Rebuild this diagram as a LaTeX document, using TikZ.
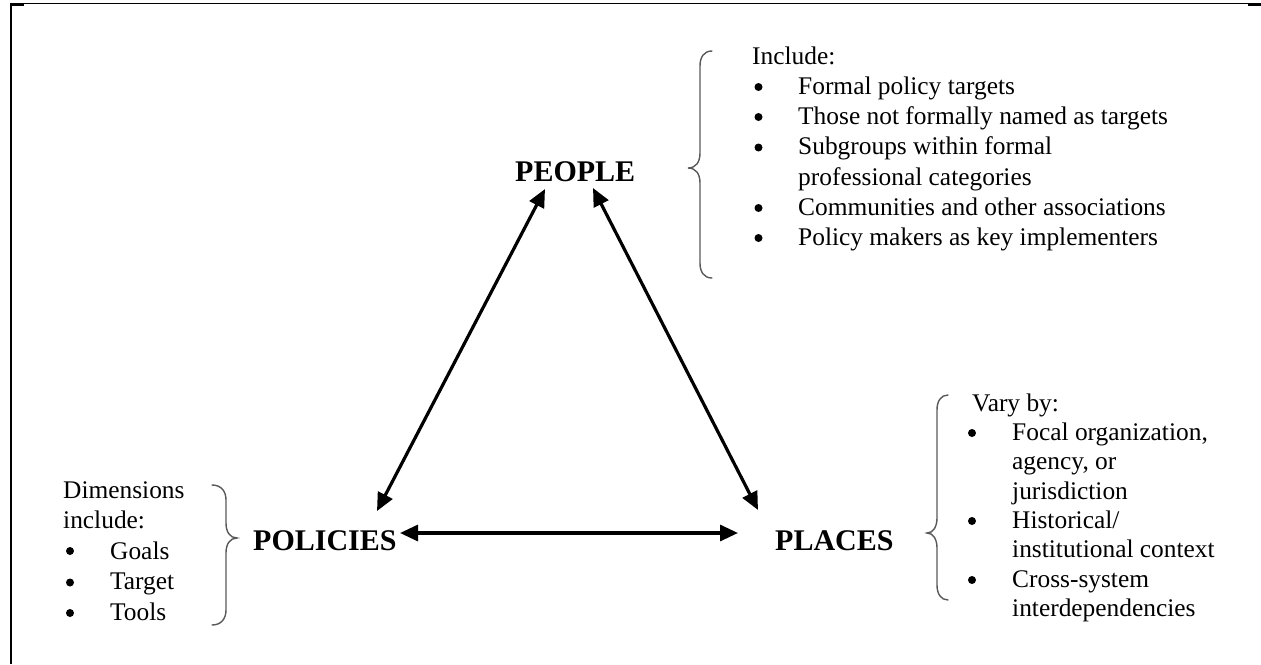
\documentclass[tikz,border=0pt]{standalone}
\usepackage{fontspec}
\setmainfont{Liberation Serif}
\usetikzlibrary{arrows.meta}
\begin{document}
\begin{tikzpicture}[x=1pt,y=-1pt,
  txt/.style={anchor=base west, inner sep=0pt, font=\fontsize{25.4}{30}\selectfont},
  head/.style={anchor=base west, inner sep=0pt, font=\fontsize{30}{36}\selectfont\bfseries},
  bul/.style={circle, fill=black, inner sep=0pt, minimum size=8pt},
  conn/.style={line width=3.2pt, {Triangle[length=18pt,width=16pt]}-{Triangle[length=18pt,width=16pt]}},
  bracesty/.style={line width=1.4pt, draw=black!65, line cap=round},
  framesty/.style={line width=1pt}]
\useasboundingbox (0,0) rectangle (1261,664);

% frame
\draw[framesty] (10,3.5) -- (1261,3.5);
\draw[line width=2pt] (10.5,3) -- (10.5,664);
\draw[line width=1.5pt] (10,5) -- (24,5);
\draw[line width=2pt] (1248,4.5) -- (1261,4.5);

% headings
\node[head] (people) at (515,181) {PEOPLE};
\node[head] (policies) at (253,550) {POLICIES};
\node[head] (places) at (775,550) {PLACES};

% arrow ends
\coordinate (peL) at (545,189);
\coordinate (poT) at (377,511);
\coordinate (peR) at (593,188);
\coordinate (plT) at (758,510);
\coordinate (poR) at (400,533);
\coordinate (plL) at (738,533);
\draw[conn] (peL) -- (poT);
\draw[conn] (peR) -- (plT);
\draw[conn] (poR) -- (plL);

% PEOPLE brace and list
\draw[bracesty] (712,51) .. controls (704,51) and (700,57) .. (700,66) -- (700,153)
  .. controls (700,162) and (696,168) .. (688,168)
  .. controls (696,168) and (700,174) .. (700,183) -- (700,263)
  .. controls (700,272) and (704,278) .. (712,278);
\node[txt] (inc) at (752,64) {Include:};
\node[bul] (b1) at (758.5,87) {};
\node[txt] (i1) at (798,94) {Formal policy targets};
\node[bul] (b2) at (758.5,117) {};
\node[txt] (i2) at (798,124) {Those not formally named as targets};
\node[bul] (b3) at (758.5,147.5) {};
\node[txt] (i3) at (798,154.5) {Subgroups within formal};
\node[txt] (i3b) at (798,185) {professional categories};
\node[bul] (b4) at (758.5,208) {};
\node[txt] (i4) at (798,215) {Communities and other associations};
\node[bul] (b5) at (758.5,238) {};
\node[txt] (i5) at (798,245) {Policy makers as key implementers};

% PLACES brace and list
\draw[bracesty] (948,395) .. controls (941,395) and (937,401) .. (937,410) -- (937,518)
  .. controls (937,527) and (933,533) .. (927,533)
  .. controls (933,533) and (937,539) .. (937,548) -- (937,585)
  .. controls (937,594) and (941,600) .. (948,600);
\node[txt] (vary) at (972,411) {Vary by:};
\node[bul] (c1) at (972,433) {};
\node[txt] (p1) at (1012,440) {Focal organization,};
\node[txt] (p1b) at (1012,469.5) {agency, or};
\node[txt] (p1c) at (1012,499) {jurisdiction};
\node[bul] (c2) at (972,521) {};
\node[txt] (p2) at (1012,528) {Historical/};
\node[txt] (p2b) at (1012,557.5) {institutional context};
\node[bul] (c3) at (972,580) {};
\node[txt] (p3) at (1012,587) {Cross-system};
\node[txt] (p3b) at (1012,616) {interdependencies};

% POLICIES brace and list
\draw[bracesty] (212,485) .. controls (221,485) and (226,491) .. (226,500) -- (226,523)
  .. controls (226,532) and (230,538) .. (237,538)
  .. controls (230,538) and (226,544) .. (226,553) -- (226,610)
  .. controls (226,619) and (221,625) .. (212,625);
\node[txt] (dim) at (63,498) {Dimensions};
\node[txt] (dimb) at (63,528.5) {include:};
\node[bul] (d1) at (70,551) {};
\node[txt] (g1) at (110,559) {Goals};
\node[bul] (d2) at (70,582.5) {};
\node[txt] (g2) at (110,589.5) {Target};
\node[bul] (d3) at (70,613) {};
\node[txt] (g3) at (110,620) {Tools};
\end{tikzpicture}
\end{document}
